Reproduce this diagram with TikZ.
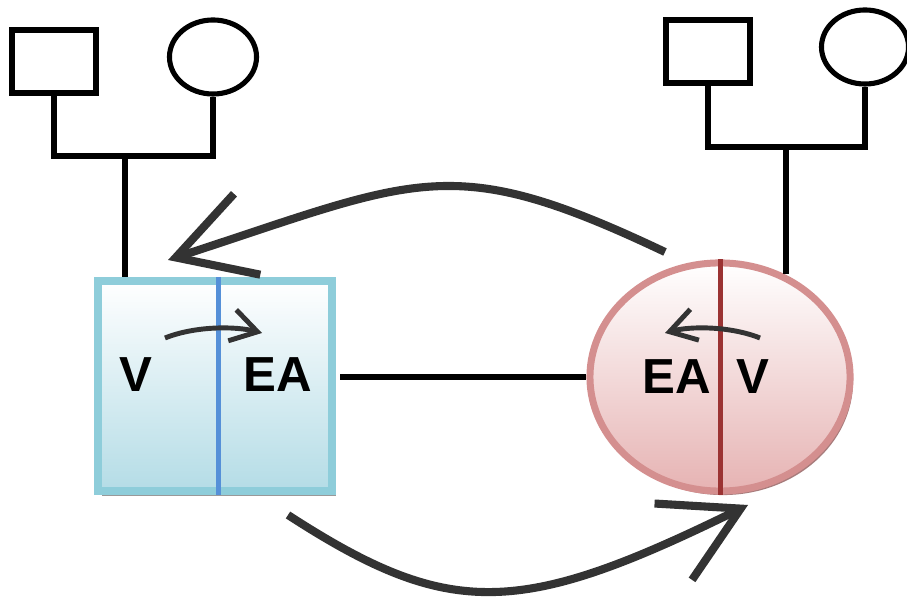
\documentclass[tikz,border=0pt]{standalone}
\usepackage{fontspec}
\setsansfont{Liberation Sans}
\usetikzlibrary{arrows.meta,shapes.geometric,shadows}

\definecolor{boxline}{HTML}{8ECDDA}
\definecolor{boxfill}{HTML}{B4DCE6}
\definecolor{boxdiv}{HTML}{5590D8}
\definecolor{ovalline}{HTML}{D48F8F}
\definecolor{ovalfill}{HTML}{E6B3B3}
\definecolor{ovaldiv}{HTML}{9B3333}
\definecolor{arrowgray}{HTML}{333333}

\begin{document}
\begin{tikzpicture}[x=0.01cm, y=-0.01cm, line width=1.45pt,
  male/.style={rectangle,draw,minimum width=0.84cm,minimum height=0.63cm,inner sep=0pt},
  female/.style={ellipse,draw,minimum width=0.87cm,minimum height=0.74cm,inner sep=0pt},
  big arrow/.style={draw=arrowgray,line width=2.3pt,-{Straight Barb[length=7.5mm,width=8.5mm]}},
  small arrow/.style={draw=arrowgray,line width=1.4pt,-{Straight Barb[length=2.6mm,width=3.2mm]}},
  tag/.style={font=\sffamily\bfseries\fontsize{14}{14}\selectfont,inner sep=0pt}]
\useasboundingbox (0,0) rectangle (907,598);

% the two partners
\node [draw=boxline,line width=0.08cm,top color=white,bottom color=boxfill,
       minimum width=2.34cm,minimum height=2.10cm,
       drop shadow={shadow xshift=0.04cm,shadow yshift=-0.045cm,fill=black!50,opacity=0.8}] (p1) at (215,386) {};
\node [ellipse,draw=ovalline,line width=0.07cm,top color=white,bottom color=ovalfill,
       minimum width=2.60cm,minimum height=2.28cm,
       drop shadow={shadow xshift=0.03cm,shadow yshift=-0.04cm,fill=ovaldiv!70!black,opacity=0.6}] (p2) at (720,377) {};
\draw [boxdiv,line width=0.05cm] ([xshift=0.03cm]p1.north) -- ([xshift=0.03cm]p1.south);
\draw [ovaldiv,line width=0.05cm] (p2.north) -- (p2.south);

\begin{scope}[every node/.style={tag}]
\node (v1) at (136,375) {V};
\node (ea1) at (278,375) {EA};
\node (ea2) at (677,377) {EA};
\node (v2) at (753,377) {V};
\end{scope}

% parents of each partner
\node [male] (f1) at (54,61.5) {};
\node [female] (m1) at (213,57) {};
\node [male] (f2) at (708,51.5) {};
\node [female] (m2) at (865,47) {};
\coordinate (c1) at (125,156);
\coordinate (c2) at (786,147);

\draw (f1.south) |- (c1) -| (m1.south);
\draw (c1) -- (c1 |- p1.north);
\draw (f2.south) |- (c2) -| (m2.south);
\draw (c2) -- (c2 |- p2.58);
\draw [shorten <=0.04cm] (p1.east |- p2.west) -- (p2.west);

% exchange between the two
\coordinate (a1) at (665,252);
\coordinate (a2) at (168,260);
\coordinate (b1) at (288,515);
\coordinate (b2) at (748,505);
\draw [big arrow] (a1) .. controls (450,150) and (420,178) .. (a2);
\draw [big arrow] (b1) .. controls (450,620) and (520,617) .. (b2);

\coordinate (s1) at (165,338);
\coordinate (t1) at (262,333);
\coordinate (s2) at (760,338);
\coordinate (t2) at (665,333);
\draw [small arrow] (s1) .. controls (195,326) and (235,326) .. (t1);
\draw [small arrow] (s2) .. controls (730,326) and (690,326) .. (t2);
\end{tikzpicture}
\end{document}
